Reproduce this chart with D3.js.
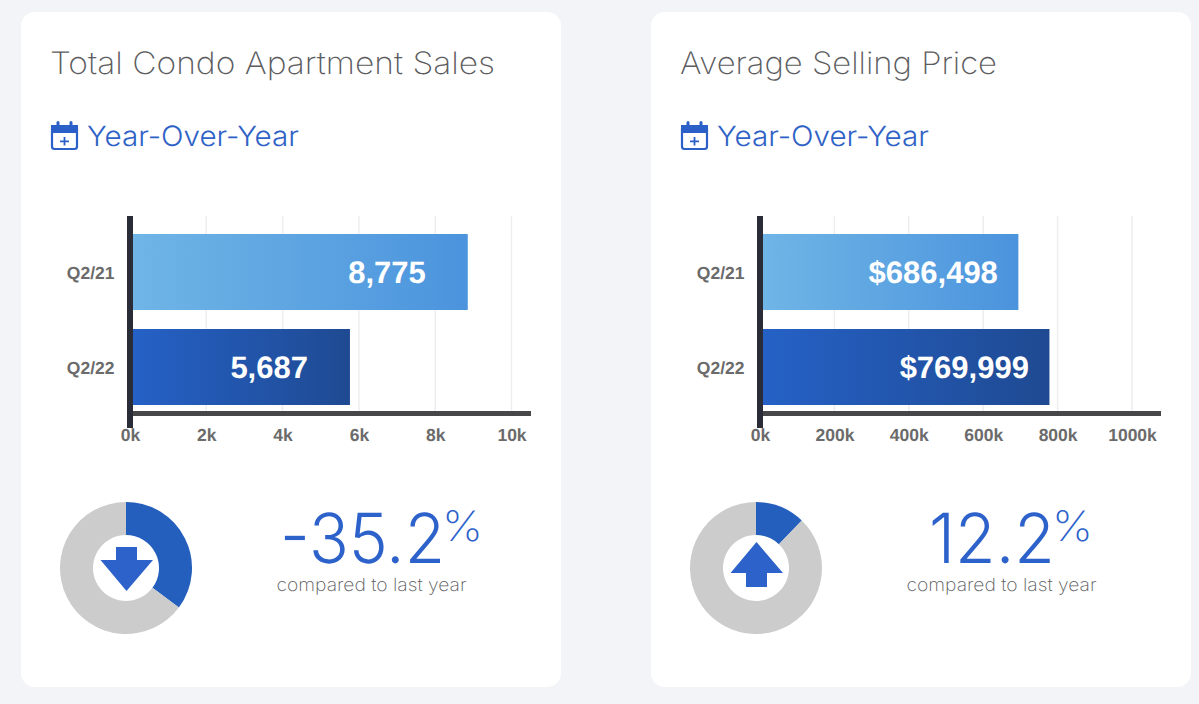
<!DOCTYPE html>
<html><head><meta charset="utf-8">
<script src="https://d3js.org/d3.v7.min.js"></script>
<style>
html,body{margin:0;padding:0;background:#f3f4f7;overflow:hidden}
svg{display:block}
text{text-rendering:geometricPrecision}
</style></head><body>
<svg id="c" width="1199" height="704"></svg>
<script>
const categories = ["Q2/21", "Q2/22"];
const titles = ["Total Condo Apartment Sales", "Average Selling Price"];
const subtitle = "Year-Over-Year";
const salesValues = [8775, 5687];
const priceValues = [686498, 769999];
const salesLabels = ["8,775", "5,687"];
const priceLabels = ["$686,498", "$769,999"];
const salesTicks = [0, 2000, 4000, 6000, 8000, 10000];
const priceTicks = [0, 200000, 400000, 600000, 800000, 1000000];
const changes = [-35.2, 12.2];
const changeLabels = ["-35.2", "12.2"];
const caption = "compared to last year";

const panels = [
  {dx:0, title:titles[0], titleW:444, values:salesValues, labels:salesLabels, ticks:salesTicks, xEnd:511.5, inset:42, change:changes[0], changeLabel:changeLabels[0], numX:280, numW:165, pctX:442},
  {dx:630, title:titles[1], titleW:316, values:priceValues, labels:priceLabels, ticks:priceTicks, xEnd:502, inset:20.5, change:changes[1], changeLabel:changeLabels[1], numX:299, numW:126, pctX:422}
];
const svg = d3.select("#c");
const defs = svg.append("defs");
function grad(id,a,b){
  const g = defs.append("linearGradient").attr("id",id);
  g.append("stop").attr("offset","0%").attr("stop-color",a);
  g.append("stop").attr("offset","100%").attr("stop-color",b);
}
grad("gLight","#6fb5e6","#4b94dd");
grad("gDark","#2561c6","#1f4a92");
const thin = "Inter, 'Open Sans', sans-serif";
const bold = "'Liberation Sans', Arial, sans-serif";
const blue = "#2d62cb";

// Draw light text stretched horizontally to the reference's wide letterforms
function wide(g,str,x,y,w,size,weight,fill){
  const t = g.append("text").text(str)
    .attr("font-family",thin).attr("font-weight",weight).attr("font-size",size).attr("fill",fill);
  const sx = w / t.node().getComputedTextLength();
  t.attr("transform",`translate(${x},${y}) scale(${sx},1)`);
  return t;
}

panels.forEach(p=>{
  const g = svg.append("g").attr("transform",`translate(${p.dx},0)`);
  g.append("rect").attr("x",21).attr("y",12).attr("width",540).attr("height",675).attr("rx",14).attr("fill","#fff");

  wide(g,p.title,50,74,445-(444-p.titleW),31,200,"#5c5c60");
  wide(g,subtitle,87,146,212,28,300,"#2f62c6");

  // calendar icon
  const ic = g.append("g").attr("fill","none").attr("stroke","#2a60c8");
  ic.append("rect").attr("x",52).attr("y",126).attr("width",25).attr("height",23).attr("rx",2.5).attr("stroke-width",2.2);
  ic.append("rect").attr("x",52).attr("y",126).attr("width",25).attr("height",6).attr("fill","#2a60c8").attr("stroke-width",2);
  ic.append("path").attr("d","M58 122.5v5M71 122.5v5").attr("stroke-width",3).attr("stroke-linecap","round");
  ic.append("path").attr("d","M64.5 137v8.5M60 141.3h9").attr("stroke-width",1.8);

  // bar chart
  const x = d3.scaleLinear().domain([0,p.ticks[p.ticks.length-1]]).range([130,p.xEnd]);
  const y = d3.scaleBand().domain(categories).range([234,405]).paddingInner(0.2).paddingOuter(0);
  const off = 133 - x(0);

  g.append("g").selectAll("line").data(p.ticks.slice(1)).join("line")
    .attr("x1",d=>x(d)).attr("x2",d=>x(d)).attr("y1",216).attr("y2",411)
    .attr("stroke","#eeeeee").attr("stroke-width",1.5);

  g.append("g").selectAll("rect").data(p.values).join("rect")
    .attr("x",x(0)+off).attr("y",(d,i)=>y(categories[i]))
    .attr("width",d=>x(d)-x(0)).attr("height",y.bandwidth())
    .attr("fill",(d,i)=>i===0?"url(#gLight)":"url(#gDark)");

  g.append("g").selectAll("text").data(p.values).join("text")
    .attr("x",d=>x(d)+off-p.inset).attr("y",(d,i)=>y(categories[i])+y.bandwidth()/2+11)
    .attr("text-anchor","end").attr("font-family",bold).attr("font-weight",700).attr("font-size",31).attr("fill","#fff")
    .text((d,i)=>p.labels[i]);

  const ax = g.append("g").attr("transform","translate(0,413.5)")
    .call(d3.axisBottom(x).tickValues(p.ticks).tickSize(0).tickPadding(15).tickFormat(d=>(d/1000)+"k"));
  ax.select(".domain").remove();
  ax.selectAll("text").attr("font-family",bold).attr("font-weight",700).attr("font-size",17.5).attr("fill","#6b6b6b");

  const ay = g.append("g").attr("transform","translate(114.5,1)")
    .call(d3.axisLeft(y).tickSize(0).tickPadding(0));
  ay.select(".domain").remove();
  ay.selectAll("text").attr("font-family",bold).attr("font-weight",700).attr("font-size",17.5).attr("fill","#6b6b6b");

  g.append("line").attr("x1",127).attr("x2",531).attr("y1",413.5).attr("y2",413.5).attr("stroke","#47474a").attr("stroke-width",5);
  g.append("line").attr("x1",130).attr("x2",130).attr("y1",216).attr("y2",428).attr("stroke","#2a2d38").attr("stroke-width",6);

  // donut
  const pie = d3.pie().sort(null).value(d=>d);
  const arc = d3.arc().innerRadius(33).outerRadius(66);
  const share = Math.abs(p.change);
  const dg = g.append("g").attr("transform","translate(126,568)");
  dg.selectAll("path").data(pie([share,100-share])).join("path")
    .attr("d",arc).attr("fill",(d,i)=>i===0?"#255fbd":"#cccccc");
  const down = p.change<0;
  g.append("path").attr("fill",blue).attr("d", down
    ? "M116 547H137V560H153L126.5 591L100.5 560H116Z"
    : "M116 587H137V573H153L126.5 542L100.5 573H116Z");

  wide(g,p.changeLabel,p.numX,563,p.numW,69,340,blue);
  wide(g,"%",p.pctX,541,41,42,200,blue);
  wide(g,caption,276.5,591,190,18,200,"#5c5c60");
});
</script>
</body></html>
